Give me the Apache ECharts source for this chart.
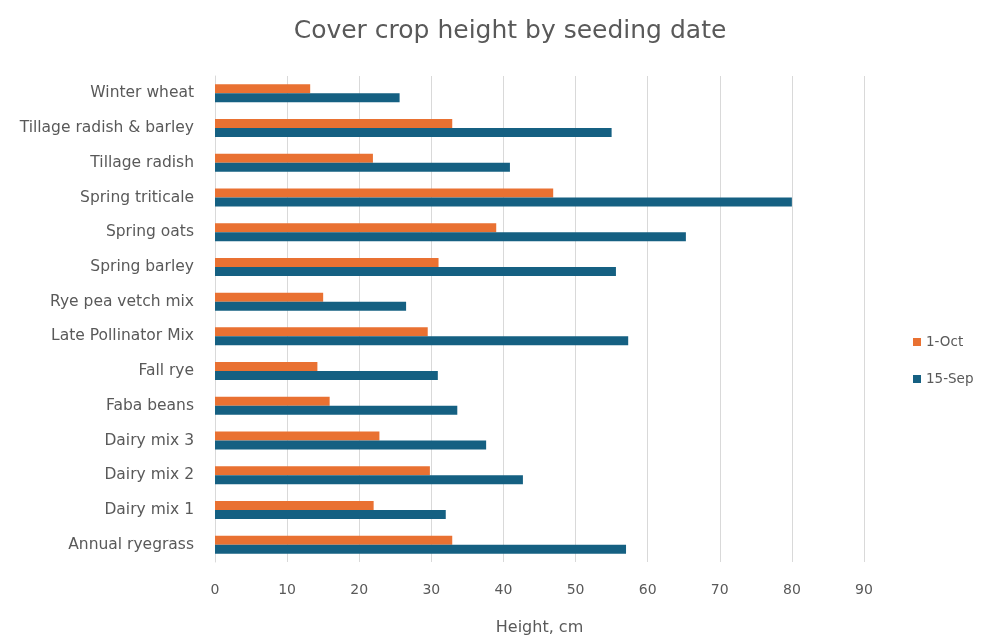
<!DOCTYPE html>
<html>
<head>
<meta charset="utf-8">
<script src="https://cdn.jsdelivr.net/npm/echarts@6/dist/echarts.min.js"></script>
<style>
  html, body { margin: 0; padding: 0; background: #ffffff; }
  #chart { width: 990px; height: 641px; }
</style>
</head>
<body>
<div id="chart"></div>
<script>
// Cover crops, listed bottom-to-top on the category axis
const crops = [
  'Annual ryegrass', 'Dairy mix 1', 'Dairy mix 2', 'Dairy mix 3', 'Faba beans',
  'Fall rye', 'Late Pollinator Mix', 'Rye pea vetch mix', 'Spring barley',
  'Spring oats', 'Spring triticale', 'Tillage radish', 'Tillage radish & barley',
  'Winter wheat'
];
// Plant height (cm) for each seeding date
const oct1 = [32.9, 22.0, 29.8, 22.8, 15.9, 14.2, 29.5, 15.0, 31.0, 39.0, 46.9, 21.9, 32.9, 13.2];
const sep15 = [57.0, 32.0, 42.7, 37.6, 33.6, 30.9, 57.3, 26.5, 55.6, 65.3, 80.0, 40.9, 55.0, 25.6];
const xTicks = [0, 10, 20, 30, 40, 50, 60, 70, 80, 90];

const FONT = 'DejaVu Sans';
const TEXT = '#595959';

const chart = echarts.init(document.getElementById('chart'), null, { renderer: 'canvas' });
chart.setOption({
  animation: false,
  backgroundColor: '#ffffff',
  title: {
    text: 'Cover crop height by seeding date',
    left: 505,
    top: 14,
    textAlign: 'center',
    textStyle: { fontFamily: FONT, fontSize: 25, fontWeight: 'normal', color: TEXT }
  },
  legend: {
    orient: 'vertical',
    left: 908,
    top: 330,
    itemWidth: 8,
    itemHeight: 8,
    itemGap: 23,
    icon: 'rect',
    data: ['1-Oct', '15-Sep'],
    textStyle: { fontFamily: FONT, fontSize: 13.5, color: TEXT }
  },
  grid: { left: 215, right: 126, top: 76, bottom: 78, containLabel: false },
  xAxis: {
    type: 'value',
    min: xTicks[0],
    max: xTicks[xTicks.length - 1],
    interval: 10,
    name: 'Height, cm',
    nameLocation: 'middle',
    nameGap: 58,
    nameTextStyle: { fontFamily: FONT, fontSize: 16, color: TEXT },
    axisLine: { show: false },
    axisTick: { show: false },
    axisLabel: { fontFamily: FONT, fontSize: 14, color: TEXT, margin: 21 },
    splitLine: { show: true, lineStyle: { color: '#d9d9d9', width: 1 } }
  },
  yAxis: {
    type: 'category',
    data: crops,
    axisLine: { show: true, lineStyle: { color: '#d9d9d9' } },
    axisTick: { show: false },
    axisLabel: { fontFamily: FONT, fontSize: 15.5, color: TEXT, margin: 21 }
  },
  series: [
    {
      name: '1-Oct',
      type: 'bar',
      data: oct1,
      barWidth: 9,
      barGap: '0%',
      itemStyle: { color: '#E97132' }
    },
    {
      name: '15-Sep',
      type: 'bar',
      data: sep15,
      barWidth: 9,
      barGap: '0%',
      itemStyle: { color: '#156082' }
    }
  ]
});
</script>
</body>
</html>
